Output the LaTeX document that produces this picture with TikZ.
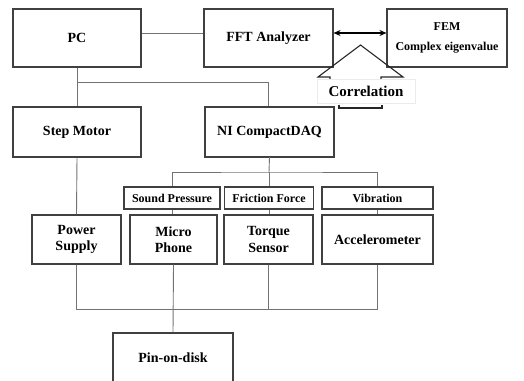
\documentclass[tikz,border=0pt]{standalone}
\usepackage{fontspec}
\setmainfont{Liberation Serif}
\usetikzlibrary{arrows.meta}
\begin{document}
\begin{tikzpicture}[x=1pt,y=-1pt,
  box/.style={draw=black!75,line width=1.1pt,rectangle,inner sep=0pt,align=center,font=\bfseries\fontsize{14}{16.5}\selectfont},
  tag/.style={box,font=\bfseries\fontsize{12}{14}\selectfont},
  wire/.style={draw=black!55,line width=0.9pt},
  tri/.style={draw=black!85,line width=1.1pt}]
\useasboundingbox (0,0) rectangle (524,380);
\begin{scope}
\clip (0,0) rectangle (524,380);
% top row
\node[box,minimum width=128pt,minimum height=58pt] (pc) at (77,38) {PC};
\node[box,minimum width=129pt,minimum height=58pt] (fft) at (268.5,38) {FFT Analyzer};
\node[box,minimum width=120pt,minimum height=58pt,font=\bfseries\fontsize{12}{20}\selectfont] (fem) at (447,38) {FEM\\Complex eigenvalue};
% second row
\node[box,minimum width=128pt,minimum height=50pt] (step) at (77,132) {Step Motor};
\node[box,minimum width=129pt,minimum height=50pt] (ni) at (269.5,132) {NI CompactDAQ};
% tags
\node[tag,minimum width=96pt,minimum height=22pt] (snd) at (172,198) {Sound Pressure};
\node[tag,minimum width=89pt,minimum height=22pt] (fri) at (269,198) {Friction Force};
\node[tag,minimum width=111pt,minimum height=22pt] (vib) at (377.5,198) {Vibration};
% sensors
\node[box,minimum width=89pt,minimum height=49pt] (pow) at (76.5,239.5) {Power\\Supply};
\node[box,minimum width=87pt,minimum height=49pt] (mic) at (173.5,239.5) {Micro\\Phone};
\node[box,minimum width=89pt,minimum height=49pt] (tor) at (268.5,239.5) {Torque\\Sensor};
\node[box,minimum width=111pt,minimum height=49pt] (acc) at (377.5,239.5) {Accelerometer};
% pin-on-disk
\node[box,minimum width=120pt,minimum height=50pt] (pin) at (173,358) {Pin-on-disk};
\end{scope}
% connectors
\draw[wire] ([yshift=5pt]pc.east) -- ([yshift=5pt]fft.west);
\draw[{Stealth[length=7pt,width=6pt]}-{Stealth[length=7pt,width=6pt]},line width=1.5pt,black] ([yshift=5pt]fft.east) -- ([yshift=5pt]fem.west);
\coordinate (j1) at (77,82);
\draw[wire] (pc.south) -- (step.north);
\draw[wire] (j1) -| ([xshift=-1.5pt]ni.north);
\draw[wire] (step.south) -- (pow.north);
\coordinate (j2) at (269,172);
\draw[wire] (ni.south |- 0,157) -- (j2);
\draw[wire] (snd.north) |- (j2) -| (vib.north);
\draw[wire] (j2) -- (fri.north);
\draw[wire] (snd.south) -- (snd.south |- mic.north);
\draw[wire] (fri.south) -- (fri.south |- tor.north);
\draw[wire] (vib.south) -- (acc.north);
\coordinate (j3) at (173,309);
\draw[wire] (pow.south) |- (j3);
\draw[wire] (j3) -| (acc.south);
\draw[wire] (tor.south) -- (tor.south |- j3);
\draw[wire] (mic.south) -- (pin.north);
% correlation symbol
\coordinate (apex) at (360.5,45);
\draw[tri] (330,79.5) -- (330,77) -- (318,77) -- (apex) -- (403,77) -- (381,77) -- (381,79.5);
\node[draw=black!8,line width=0.5pt,minimum width=98pt,minimum height=24pt,inner sep=0pt,font=\bfseries\fontsize{15}{17}\selectfont] (cor) at (366,91) {Correlation};
\draw[tri] (339,104.5) -- (339,108) -- (382,108) -- (382,104.5);
\end{tikzpicture}
\end{document}
